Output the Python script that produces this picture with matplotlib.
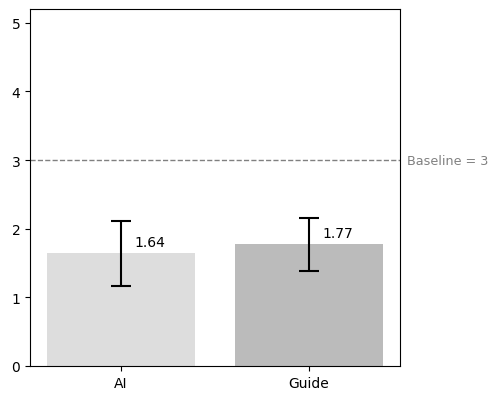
import matplotlib
matplotlib.use("Agg")
import matplotlib.pyplot as plt

categories = ["AI", "Guide"]
means = [1.64, 1.77]
errors = [0.47, 0.38]
bar_colors = ["#dddddd", "#bbbbbb"]
baseline = 3

fig = plt.figure(figsize=(4.98, 4.02), dpi=100)
ax = fig.add_axes([30/498, 1 - 367/402, 370/498, 357/402])

x = list(range(len(categories)))
ax.bar(x, means, width=0.79, color=bar_colors, yerr=errors, capsize=7,
       error_kw=dict(ecolor="black", elinewidth=1.5, capthick=1.5))
for xi, m in zip(x, means):
    ax.text(xi + 0.07, m + 0.07, f"{m:.2f}", ha="left", va="bottom", fontsize=10)

ax.axhline(baseline, color="gray", linestyle="--", linewidth=1)
ax.text(1.02, baseline, f"Baseline = {baseline}", transform=ax.get_yaxis_transform(),
        ha="left", va="center", color="gray", fontsize=9.2)

ax.set_xticks(x)
ax.set_xticklabels(categories)
ax.set_ylim(0, 5.2)
ax.set_yticks([0, 1, 2, 3, 4, 5])

fig.savefig("out.png", dpi=100)
